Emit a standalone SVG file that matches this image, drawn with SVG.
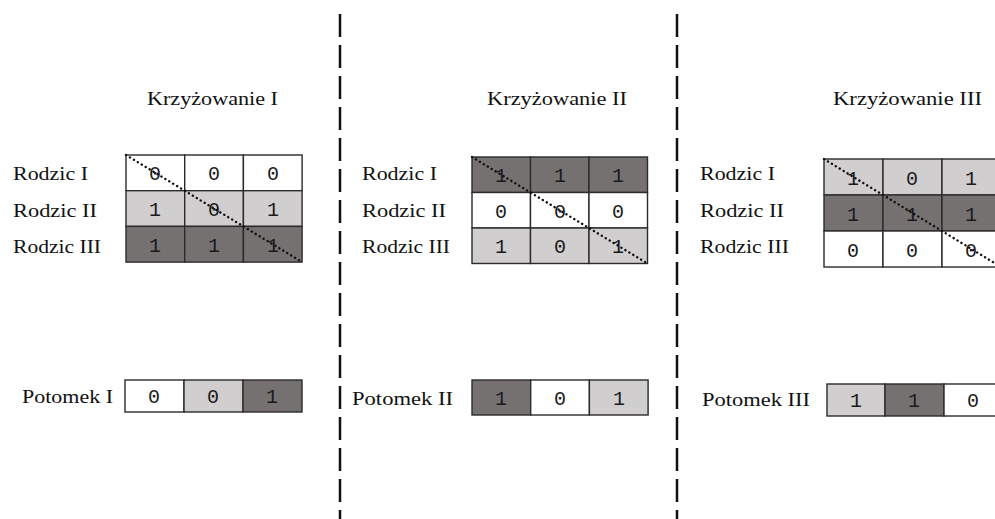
<svg xmlns="http://www.w3.org/2000/svg" width="995" height="519" viewBox="0 0 995 519">
  <style>
    .lbl { font-family: "Liberation Serif", "Times New Roman", serif; font-size: 18px; fill: #111; }
    .dig { font-family: "Liberation Mono", "DejaVu Sans Mono", monospace; font-size: 20px; fill: #1a1a1a; text-anchor: middle; }
    .w { fill: #ffffff; }
    .l { fill: #d0cece; }
    .d { fill: #767171; }
    .cell rect { stroke: #2b2b2b; stroke-width: 1.4; }
    .diag { stroke: #111; stroke-width: 2.4; stroke-dasharray: 0.1 4.5; stroke-linecap: round; fill: none; }
    .sep { stroke: #111; stroke-width: 2.5; stroke-dasharray: 23 8; fill: none; }
  </style>

  <!-- separators between the three crossings -->
  <g id="connectors">
    <line class="sep" x1="340" y1="14" x2="340" y2="519"/>
    <line class="sep" x1="677" y1="14" x2="677" y2="519"/>
  </g>

  <!-- Crossing I -->
  <g id="krzyzowanie-1">
    <text class="lbl" x="147" y="105" textLength="131" lengthAdjust="spacingAndGlyphs">Krzyżowanie I</text>
    <text class="lbl" x="13" y="180" textLength="75" lengthAdjust="spacingAndGlyphs">Rodzic I</text>
    <text class="lbl" x="13" y="217" textLength="84" lengthAdjust="spacingAndGlyphs">Rodzic II</text>
    <text class="lbl" x="13" y="253" textLength="88" lengthAdjust="spacingAndGlyphs">Rodzic III</text>
    <g class="cell">
      <rect class="w" x="126" y="155" width="58.7" height="35.7"/>
      <rect class="w" x="184.7" y="155" width="58.7" height="35.7"/>
      <rect class="w" x="243.4" y="155" width="58.7" height="35.7"/>
      <rect class="l" x="126" y="190.7" width="58.7" height="35.7"/>
      <rect class="l" x="184.7" y="190.7" width="58.7" height="35.7"/>
      <rect class="l" x="243.4" y="190.7" width="58.7" height="35.7"/>
      <rect class="d" x="126" y="226.4" width="58.7" height="35.7"/>
      <rect class="d" x="184.7" y="226.4" width="58.7" height="35.7"/>
      <rect class="d" x="243.4" y="226.4" width="58.7" height="35.7"/>
    </g>
    <text class="dig" x="155" y="180">0</text>
    <text class="dig" x="214" y="180">0</text>
    <text class="dig" x="273" y="180">0</text>
    <text class="dig" x="155" y="216">1</text>
    <text class="dig" x="214" y="216">0</text>
    <text class="dig" x="273" y="216">1</text>
    <text class="dig" x="155" y="252">1</text>
    <text class="dig" x="214" y="252">1</text>
    <text class="dig" x="273" y="252">1</text>
    <line class="diag" x1="126" y1="155" x2="302" y2="262"/>
  </g>

  <g id="potomek-1">
    <text class="lbl" x="22" y="403" textLength="91" lengthAdjust="spacingAndGlyphs">Potomek I</text>
    <g class="cell">
      <rect class="w" x="125" y="380" width="59" height="32"/>
      <rect class="l" x="184" y="380" width="59" height="32"/>
      <rect class="d" x="243" y="380" width="59" height="32"/>
    </g>
    <text class="dig" x="154" y="403">0</text>
    <text class="dig" x="213" y="403">0</text>
    <text class="dig" x="272" y="403">1</text>
  </g>

  <!-- Crossing II -->
  <g id="krzyzowanie-2">
    <text class="lbl" x="487" y="105" textLength="140" lengthAdjust="spacingAndGlyphs">Krzyżowanie II</text>
    <text class="lbl" x="362" y="180" textLength="75" lengthAdjust="spacingAndGlyphs">Rodzic I</text>
    <text class="lbl" x="362" y="217" textLength="84" lengthAdjust="spacingAndGlyphs">Rodzic II</text>
    <text class="lbl" x="362" y="253" textLength="88" lengthAdjust="spacingAndGlyphs">Rodzic III</text>
    <g class="cell">
      <rect class="d" x="472" y="157" width="58.5" height="35.5"/>
      <rect class="d" x="530.5" y="157" width="58.5" height="35.5"/>
      <rect class="d" x="589" y="157" width="58.5" height="35.5"/>
      <rect class="w" x="472" y="192.5" width="58.5" height="35.5"/>
      <rect class="w" x="530.5" y="192.5" width="58.5" height="35.5"/>
      <rect class="w" x="589" y="192.5" width="58.5" height="35.5"/>
      <rect class="l" x="472" y="228" width="58.5" height="35.5"/>
      <rect class="l" x="530.5" y="228" width="58.5" height="35.5"/>
      <rect class="l" x="589" y="228" width="58.5" height="35.5"/>
    </g>
    <text class="dig" x="501" y="182">1</text>
    <text class="dig" x="560" y="182">1</text>
    <text class="dig" x="618" y="182">1</text>
    <text class="dig" x="501" y="218">0</text>
    <text class="dig" x="560" y="218">0</text>
    <text class="dig" x="618" y="218">0</text>
    <text class="dig" x="501" y="253">1</text>
    <text class="dig" x="560" y="253">0</text>
    <text class="dig" x="618" y="253">1</text>
    <line class="diag" x1="472" y1="157" x2="647.5" y2="263.5"/>
  </g>

  <g id="potomek-2">
    <text class="lbl" x="352" y="405" textLength="101" lengthAdjust="spacingAndGlyphs">Potomek II</text>
    <g class="cell">
      <rect class="d" x="472" y="380" width="58.7" height="35"/>
      <rect class="w" x="530.7" y="380" width="58.7" height="35"/>
      <rect class="l" x="589.4" y="380" width="58.7" height="35"/>
    </g>
    <text class="dig" x="501" y="405">1</text>
    <text class="dig" x="560" y="405">0</text>
    <text class="dig" x="619" y="405">1</text>
  </g>

  <!-- Crossing III -->
  <g id="krzyzowanie-3">
    <text class="lbl" x="833" y="105" textLength="149" lengthAdjust="spacingAndGlyphs">Krzyżowanie III</text>
    <text class="lbl" x="700" y="180" textLength="75" lengthAdjust="spacingAndGlyphs">Rodzic I</text>
    <text class="lbl" x="700" y="217" textLength="84" lengthAdjust="spacingAndGlyphs">Rodzic II</text>
    <text class="lbl" x="700" y="253" textLength="89" lengthAdjust="spacingAndGlyphs">Rodzic III</text>
    <g class="cell">
      <rect class="l" x="824" y="159" width="59" height="36"/>
      <rect class="l" x="883" y="159" width="59" height="36"/>
      <rect class="l" x="942" y="159" width="59" height="36"/>
      <rect class="d" x="824" y="195" width="59" height="36"/>
      <rect class="d" x="883" y="195" width="59" height="36"/>
      <rect class="d" x="942" y="195" width="59" height="36"/>
      <rect class="w" x="824" y="231" width="59" height="36"/>
      <rect class="w" x="883" y="231" width="59" height="36"/>
      <rect class="w" x="942" y="231" width="59" height="36"/>
    </g>
    <text class="dig" x="853" y="185">1</text>
    <text class="dig" x="912" y="185">0</text>
    <text class="dig" x="971" y="185">1</text>
    <text class="dig" x="853" y="221">1</text>
    <text class="dig" x="912" y="221">1</text>
    <text class="dig" x="971" y="221">1</text>
    <text class="dig" x="853" y="257">0</text>
    <text class="dig" x="912" y="257">0</text>
    <text class="dig" x="971" y="257">0</text>
    <line class="diag" x1="824" y1="159" x2="1001" y2="267"/>
  </g>

  <g id="potomek-3">
    <text class="lbl" x="702" y="406" textLength="108" lengthAdjust="spacingAndGlyphs">Potomek III</text>
    <g class="cell">
      <rect class="l" x="827" y="384" width="58" height="32"/>
      <rect class="d" x="885" y="384" width="59" height="32"/>
      <rect class="w" x="944" y="384" width="59" height="32"/>
    </g>
    <text class="dig" x="856" y="407">1</text>
    <text class="dig" x="914" y="407">1</text>
    <text class="dig" x="973" y="407">0</text>
  </g>
</svg>
